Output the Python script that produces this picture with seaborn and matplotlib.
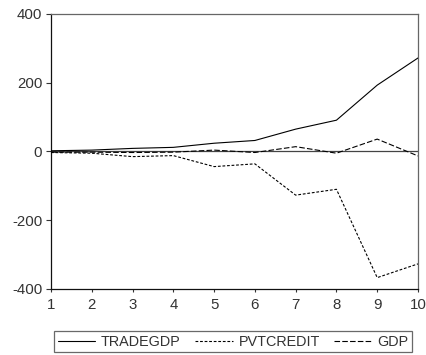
import matplotlib
matplotlib.use("Agg")
import matplotlib.pyplot as plt
import seaborn as sns
import pandas as pd

periods = [1, 2, 3, 4, 5, 6, 7, 8, 9, 10]
tradegdp = [2, 4, 9, 12, 24, 32, 65, 91, 193, 272]
pvtcredit = [-3, -5, -15, -12, -44, -36, -127, -110, -367, -327]
gdp = [-2, -2, -3, -2, 4, -3, 14, -5, 36, -13]
series_names = ["TRADEGDP", "PVTCREDIT", "GDP"]
y_ticks = [-400, -200, 0, 200, 400]

df = pd.DataFrame({
    "period": periods * 3,
    "value": tradegdp + pvtcredit + gdp,
    "series": [series_names[0]] * 10 + [series_names[1]] * 10 + [series_names[2]] * 10,
})

sns.set_style("white")
plt.rcParams["font.family"] = ["Liberation Sans", "DejaVu Sans"]
plt.rcParams["axes.unicode_minus"] = False
txt = "#333333"

fig = plt.figure(figsize=(4.27, 3.55), dpi=100)
ax = fig.add_axes([0.1194, 0.186, 0.8595, 0.7746])

ax.axhline(0, color="#444444", lw=0.9, zorder=1)

sns.lineplot(data=df, x="period", y="value", hue="series", style="series",
             palette={n: "black" for n in series_names},
             dashes={"TRADEGDP": "", "PVTCREDIT": (2.5, 1.6), "GDP": (5, 2)},
             linewidth=0.8, ax=ax, legend=True, zorder=3)

ax.set_xlim(1, 10)
ax.set_ylim(-400, 400)
ax.set_xticks(periods)
ax.set_yticks(y_ticks)
ax.set_xlabel("")
ax.set_ylabel("")
ax.tick_params(axis="both", direction="out", width=0.8, color="#333333",
               labelsize=10.8, labelcolor=txt, bottom=True, left=True)
ax.tick_params(axis="x", length=2.5, pad=4)
ax.tick_params(axis="y", length=3.8, pad=2.5)
for side in ["left", "bottom"]:
    ax.spines[side].set_color("#111111")
    ax.spines[side].set_linewidth(0.9)
for side in ["top", "right"]:
    ax.spines[side].set_color("#666666")
    ax.spines[side].set_linewidth(0.9)

handles, labels = ax.get_legend_handles_labels()
ax.get_legend().remove()
leg = fig.legend(handles, labels, loc="center", bbox_to_anchor=(0.546, 0.037),
                 ncol=3, frameon=True, fancybox=False, fontsize=10.4,
                 handlelength=2.6, handletextpad=0.4, columnspacing=1.0,
                 borderpad=0.25, labelcolor=txt)
leg.get_frame().set_edgecolor("#444444")
leg.get_frame().set_linewidth(0.9)

fig.savefig("out.png", dpi=100)
